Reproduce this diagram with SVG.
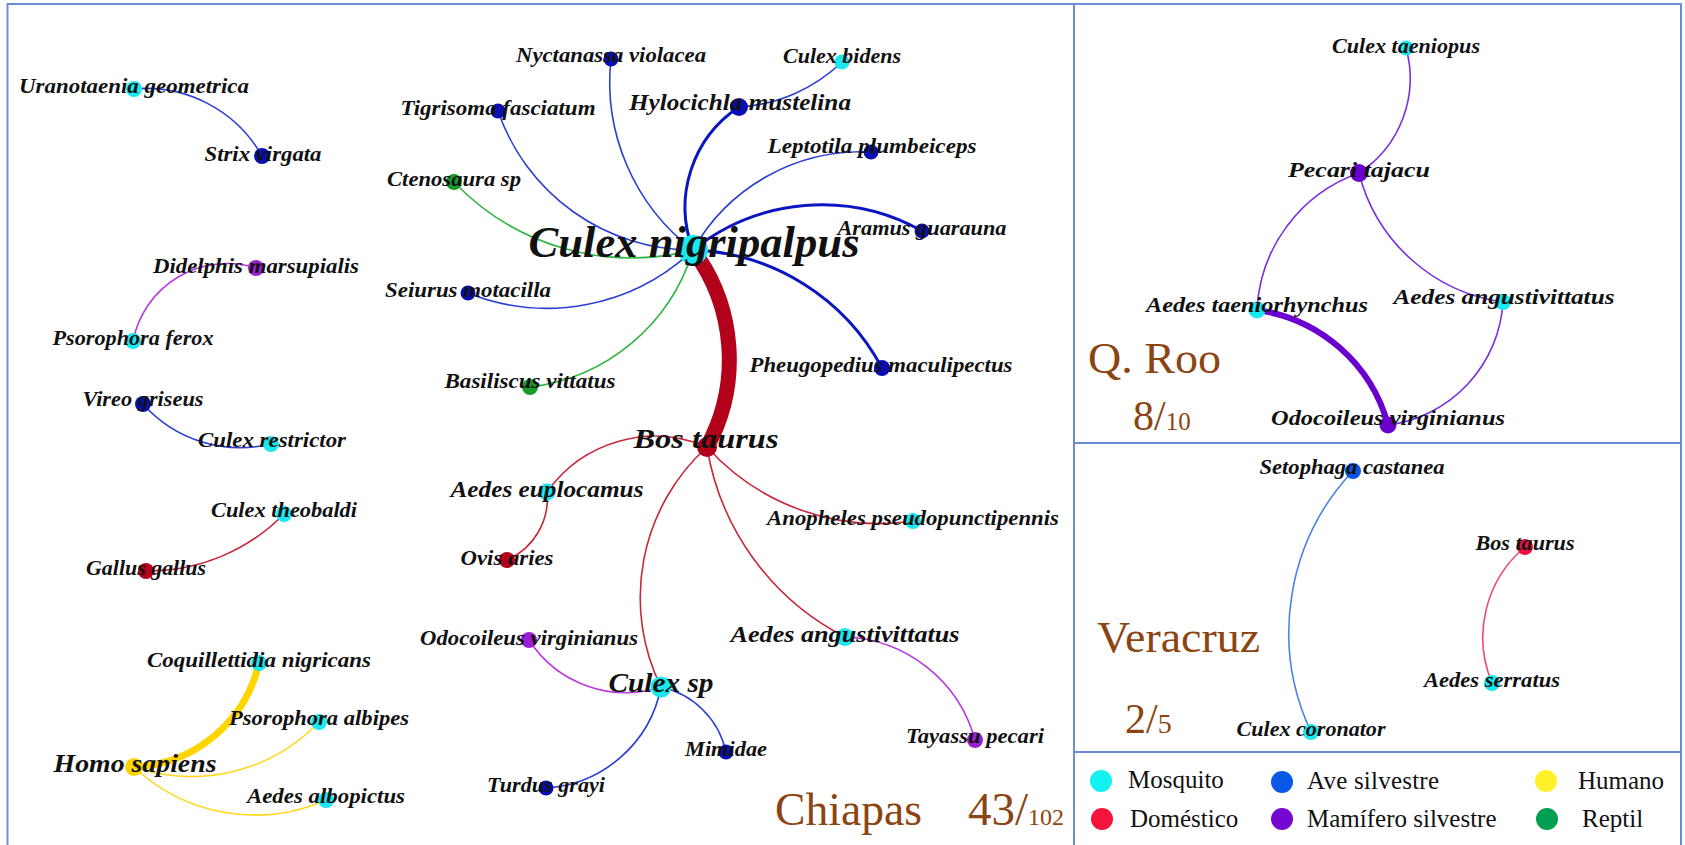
<svg xmlns="http://www.w3.org/2000/svg" width="1685" height="845" viewBox="0 0 1685 845">
  <style>
    .frame { fill: none; stroke: #6a8dd6; stroke-width: 2; }
    .lbl { font-family: "Liberation Serif", "Times New Roman", serif; font-weight: bold; font-style: italic; fill: #111; text-anchor: middle; font-size: 20px; }
    .edge { fill: none; stroke-width: 1.6; stroke-linecap: round; }
    .b { stroke: #2b3fd1; }
    .bt { stroke: #0b16c0; stroke-width: 3; }
    .g { stroke: #2fb540; }
    .r { stroke: #c8283c; }
    .m { stroke: #b93ae0; }
    .y { stroke: #ffd820; }
    .p { stroke: #7b30e0; }
    .vb { stroke: #4b82ea; }
    .vr { stroke: #f04a6a; }
    .mos { fill: #1ae8f0; }
    .ave { fill: #0a0fb4; }
    .rep { fill: #1a9a2a; }
    .mam { fill: #9b1fd6; }
    .dom { fill: #b3001b; }
    .hum { fill: #ffd500; }
    .mamq { fill: #6a00cf; }
    .avev { fill: #0a55e6; }
    .domv { fill: #ee1040; }
    .region { font-family: "Liberation Serif", "Times New Roman", serif; fill: #8b4513; }
    .leg { font-family: "Liberation Serif", "Times New Roman", serif; font-size: 25px; fill: #111; }
  </style>

  <rect width="1685" height="845" fill="#ffffff"/>

  <!-- panel frames -->
  <g id="frames">
    <rect class="frame" x="7.5" y="4" width="1673.5" height="850"/>
    <line class="frame" x1="1074" y1="4" x2="1074" y2="850"/>
    <line class="frame" x1="1074" y1="443" x2="1681" y2="443"/>
    <line class="frame" x1="1074" y1="752" x2="1681" y2="752"/>
  </g>

  <!-- connectors -->
  <g id="connectors">
    <path class="edge b" d="M134 89 A133 133 0 0 1 262 156"/>
    <path class="edge m" d="M256 268 A96 96 0 0 0 133 341"/>
    <path class="edge b" d="M143 404 A130 130 0 0 0 271 444"/>
    <path class="edge r" d="M146 571 A190 190 0 0 0 284 514"/>
    <path class="edge y" style="stroke:#ffd500;stroke-width:7" d="M134 767 A134 134 0 0 0 259 663"/>
    <path class="edge y" d="M134 767 A177 177 0 0 0 319 722"/>
    <path class="edge y" d="M134 767 A176 176 0 0 0 326 800"/>
    <path class="edge b" d="M498 111 A206 206 0 0 0 693 250"/>
    <path class="edge b" d="M611 59 A211 211 0 0 0 693 250"/>
    <path class="edge bt" d="M739 107 A120 120 0 0 0 693 250"/>
    <path class="edge b" d="M739 107 A163 163 0 0 0 842 62"/>
    <path class="edge b" d="M693 250 A193 193 0 0 1 871 152"/>
    <path class="edge bt" d="M693 250 A206 206 0 0 1 922 231"/>
    <path class="edge bt" d="M693 250 A223 223 0 0 1 882 368"/>
    <path class="edge b" d="M468 293 A212 212 0 0 0 693 250"/>
    <path class="edge g" d="M454 182 A245 245 0 0 0 693 250"/>
    <path class="edge g" d="M530 387 A194 194 0 0 0 693 250"/>
    <path class="edge" style="stroke:#b3001b;stroke-width:15;stroke-linecap:butt" d="M693 250 A183 183 0 0 1 707 447"/>
    <path class="edge r" d="M547 492 A132 132 0 0 1 707 447"/>
    <path class="edge r" d="M547 492 A67 67 0 0 1 507 560"/>
    <path class="edge r" d="M707 447 A231 231 0 0 0 913 521"/>
    <path class="edge r" d="M707 447 A260 260 0 0 0 845 637"/>
    <path class="edge r" d="M707 447 A203 203 0 0 0 661 687"/>
    <path class="edge m" d="M529 640 A115 115 0 0 0 661 687"/>
    <path class="edge b" d="M661 687 A85 85 0 0 1 726 752"/>
    <path class="edge b" d="M661 687 A125 125 0 0 1 546 788"/>
    <path class="edge m" d="M845 637 A140 140 0 0 1 975 740"/>
    <path class="edge p" d="M1406 48 A113 113 0 0 1 1359 173"/>
    <path class="edge p" d="M1359 173 A153 153 0 0 0 1257 310"/>
    <path class="edge p" d="M1359 173 A173 173 0 0 0 1503 302"/>
    <path class="edge p" style="stroke:#6a00d0;stroke-width:6" d="M1257 310 A158 158 0 0 1 1388 425"/>
    <path class="edge p" d="M1503 302 A132 132 0 0 1 1388 425"/>
    <path class="edge vb" d="M1353 471 A235 235 0 0 0 1311 732"/>
    <path class="edge vr" d="M1525 547 A118 118 0 0 0 1492 683"/>
  </g>

  <!-- Chiapas network -->
  <g id="n-uranotaenia-geometrica"><circle class="mos" cx="134" cy="89" r="8"/><text class="lbl" x="134" y="93" textLength="230" lengthAdjust="spacingAndGlyphs">Uranotaenia geometrica</text></g>
  <g id="n-strix-virgata"><circle class="ave" cx="262" cy="156" r="8"/><text class="lbl" x="263" y="161" textLength="117" lengthAdjust="spacingAndGlyphs">Strix virgata</text></g>
  <g id="n-didelphis-marsupialis"><circle class="mam" cx="256" cy="268" r="8"/><text class="lbl" x="256" y="273" textLength="206" lengthAdjust="spacingAndGlyphs">Didelphis marsupialis</text></g>
  <g id="n-psorophora-ferox"><circle class="mos" cx="133" cy="341" r="8"/><text class="lbl" x="133" y="345" textLength="161" lengthAdjust="spacingAndGlyphs">Psorophora ferox</text></g>
  <g id="n-vireo-griseus"><circle class="ave" cx="143" cy="404" r="8"/><text class="lbl" x="143" y="406" textLength="121" lengthAdjust="spacingAndGlyphs">Vireo griseus</text></g>
  <g id="n-culex-restrictor"><circle class="mos" cx="271" cy="444" r="8"/><text class="lbl" x="272" y="447" textLength="148" lengthAdjust="spacingAndGlyphs">Culex restrictor</text></g>
  <g id="n-culex-theobaldi"><circle class="mos" cx="284" cy="514" r="8"/><text class="lbl" x="284" y="517" textLength="146" lengthAdjust="spacingAndGlyphs">Culex theobaldi</text></g>
  <g id="n-gallus-gallus"><circle class="dom" cx="146" cy="571" r="8"/><text class="lbl" x="146" y="575" textLength="120" lengthAdjust="spacingAndGlyphs">Gallus gallus</text></g>
  <g id="n-coquillettidia-nigricans"><circle class="mos" cx="259" cy="663" r="8"/><text class="lbl" x="259" y="667" textLength="224" lengthAdjust="spacingAndGlyphs">Coquillettidia nigricans</text></g>
  <g id="n-psorophora-albipes"><circle class="mos" cx="319" cy="722" r="8"/><text class="lbl" x="319" y="725" textLength="180" lengthAdjust="spacingAndGlyphs">Psorophora albipes</text></g>
  <g id="n-homo-sapiens"><circle class="hum" cx="134" cy="767" r="9"/><text class="lbl" x="135" y="772" style="font-size:26px" textLength="163" lengthAdjust="spacingAndGlyphs">Homo sapiens</text></g>
  <g id="n-aedes-albopictus"><circle class="mos" cx="326" cy="800" r="8"/><text class="lbl" x="326" y="803" textLength="158" lengthAdjust="spacingAndGlyphs">Aedes albopictus</text></g>
  <g id="n-ctenosaura-sp"><circle class="rep" cx="454" cy="182" r="8"/><text class="lbl" x="454" y="186" textLength="134" lengthAdjust="spacingAndGlyphs">Ctenosaura sp</text></g>
  <g id="n-tigrisoma-fasciatum"><circle class="ave" cx="498" cy="111" r="7.5"/><text class="lbl" x="498" y="115" textLength="195" lengthAdjust="spacingAndGlyphs">Tigrisoma fasciatum</text></g>
  <g id="n-seiurus-motacilla"><circle class="ave" cx="468" cy="293" r="7.5"/><text class="lbl" x="468" y="297" textLength="166" lengthAdjust="spacingAndGlyphs">Seiurus motacilla</text></g>
  <g id="n-basiliscus-vittatus"><circle class="rep" cx="530" cy="387" r="8"/><text class="lbl" x="530" y="388" textLength="171" lengthAdjust="spacingAndGlyphs">Basiliscus vittatus</text></g>
  <g id="n-nyctanassa-violacea"><circle class="ave" cx="611" cy="59" r="7.5"/><text class="lbl" x="611" y="62" textLength="190" lengthAdjust="spacingAndGlyphs">Nyctanassa violacea</text></g>
  <g id="n-culex-bidens"><circle class="mos" cx="842" cy="62" r="7.5"/><text class="lbl" x="842" y="63" textLength="118" lengthAdjust="spacingAndGlyphs">Culex bidens</text></g>
  <g id="n-hylocichla-mustelina"><circle class="ave" cx="739" cy="107" r="9"/><text class="lbl" x="740" y="110" style="font-size:23px" textLength="222" lengthAdjust="spacingAndGlyphs">Hylocichla mustelina</text></g>
  <g id="n-leptotila-plumbeiceps"><circle class="ave" cx="871" cy="152" r="7.5"/><text class="lbl" x="872" y="153" textLength="209" lengthAdjust="spacingAndGlyphs">Leptotila plumbeiceps</text></g>
  <g id="n-aramus-guarauna"><circle class="ave" cx="922" cy="231" r="7.5"/><text class="lbl" x="922" y="235" textLength="169" lengthAdjust="spacingAndGlyphs">Aramus guarauna</text></g>
  <g id="n-pheugopedius-maculipectus"><circle class="ave" cx="882" cy="368" r="8"/><text class="lbl" x="881" y="372" textLength="263" lengthAdjust="spacingAndGlyphs">Pheugopedius maculipectus</text></g>
  <g id="n-culex-nigripalpus"><circle class="mos" cx="693" cy="250" r="15"/><text class="lbl" x="694" y="257" style="font-size:44px" textLength="331" lengthAdjust="spacingAndGlyphs">Culex nigripalpus</text></g>
  <g id="n-bos-taurus"><circle class="dom" cx="707" cy="447" r="10"/><text class="lbl" x="706" y="448" style="font-size:28px" textLength="145" lengthAdjust="spacingAndGlyphs">Bos taurus</text></g>
  <g id="n-aedes-euplocamus"><circle class="mos" cx="547" cy="492" r="8.5"/><text class="lbl" x="547" y="497" style="font-size:23px" textLength="193" lengthAdjust="spacingAndGlyphs">Aedes euplocamus</text></g>
  <g id="n-ovis-aries"><circle class="dom" cx="507" cy="560" r="8"/><text class="lbl" x="507" y="565" textLength="93" lengthAdjust="spacingAndGlyphs">Ovis aries</text></g>
  <g id="n-anopheles-pseudopunctipennis"><circle class="mos" cx="913" cy="521" r="8"/><text class="lbl" x="913" y="525" textLength="292" lengthAdjust="spacingAndGlyphs">Anopheles pseudopunctipennis</text></g>
  <g id="n-aedes-angustivittatus-chis"><circle class="mos" cx="845" cy="637" r="9"/><text class="lbl" x="845" y="642" style="font-size:23px" textLength="229" lengthAdjust="spacingAndGlyphs">Aedes angustivittatus</text></g>
  <g id="n-odocoileus-virginianus-chis"><circle class="mam" cx="529" cy="640" r="8"/><text class="lbl" x="529" y="645" textLength="218" lengthAdjust="spacingAndGlyphs">Odocoileus virginianus</text></g>
  <g id="n-culex-sp"><circle class="mos" cx="661" cy="687" r="10.5"/><text class="lbl" x="661" y="692" style="font-size:27px" textLength="105" lengthAdjust="spacingAndGlyphs">Culex sp</text></g>
  <g id="n-tayassu-pecari"><circle class="mam" cx="975" cy="740" r="8"/><text class="lbl" x="975" y="743" textLength="138" lengthAdjust="spacingAndGlyphs">Tayassu pecari</text></g>
  <g id="n-mimidae"><circle class="ave" cx="726" cy="752" r="7.5"/><text class="lbl" x="726" y="756" textLength="82" lengthAdjust="spacingAndGlyphs">Mimidae</text></g>
  <g id="n-turdus-grayi"><circle class="ave" cx="546" cy="788" r="7.5"/><text class="lbl" x="546" y="792" textLength="118" lengthAdjust="spacingAndGlyphs">Turdus grayi</text></g>

  <!-- Quintana Roo network -->
  <g id="n-culex-taeniopus"><circle class="mos" cx="1406" cy="48" r="7.5"/><text class="lbl" x="1406" y="53" textLength="148" lengthAdjust="spacingAndGlyphs">Culex taeniopus</text></g>
  <g id="n-pecari-tajacu"><circle class="mamq" cx="1359" cy="173" r="9"/><text class="lbl" x="1359" y="177" style="font-size:22px" textLength="142" lengthAdjust="spacingAndGlyphs">Pecari tajacu</text></g>
  <g id="n-aedes-taeniorhynchus"><circle class="mos" cx="1257" cy="310" r="8.5"/><text class="lbl" x="1257" y="312" textLength="222" lengthAdjust="spacingAndGlyphs">Aedes taeniorhynchus</text></g>
  <g id="n-aedes-angustivittatus-qroo"><circle class="mos" cx="1503" cy="302" r="8"/><text class="lbl" x="1504" y="304" textLength="221" lengthAdjust="spacingAndGlyphs">Aedes angustivittatus</text></g>
  <g id="n-odocoileus-virginianus-qroo"><circle class="mamq" cx="1388" cy="425" r="8.5"/><text class="lbl" x="1388" y="425" textLength="234" lengthAdjust="spacingAndGlyphs">Odocoileus virginianus</text></g>

  <!-- Veracruz network -->
  <g id="n-setophaga-castanea"><circle class="avev" cx="1353" cy="471" r="8"/><text class="lbl" x="1352" y="474" textLength="185" lengthAdjust="spacingAndGlyphs">Setophaga castanea</text></g>
  <g id="n-culex-coronator"><circle class="mos" cx="1311" cy="732" r="8"/><text class="lbl" x="1311" y="736" textLength="149" lengthAdjust="spacingAndGlyphs">Culex coronator</text></g>
  <g id="n-bos-taurus-ver"><circle class="domv" cx="1525" cy="547" r="8"/><text class="lbl" x="1525" y="550" textLength="99" lengthAdjust="spacingAndGlyphs">Bos taurus</text></g>
  <g id="n-aedes-serratus"><circle class="mos" cx="1492" cy="683" r="8"/><text class="lbl" x="1492" y="687" textLength="136" lengthAdjust="spacingAndGlyphs">Aedes serratus</text></g>

  <!-- region titles and counts -->
  <g id="region-labels">
    <text class="region" x="775" y="825" style="font-size:46px" textLength="147" lengthAdjust="spacingAndGlyphs">Chiapas</text>
    <text class="region" x="968" y="825"><tspan style="font-size:47px">43/</tspan><tspan style="font-size:24px">102</tspan></text>
    <text class="region" x="1088" y="373" style="font-size:45px" textLength="133" lengthAdjust="spacingAndGlyphs">Q. Roo</text>
    <text class="region" x="1133" y="430"><tspan style="font-size:42px">8/</tspan><tspan style="font-size:25px">10</tspan></text>
    <text class="region" x="1097" y="652" style="font-size:45px" textLength="163" lengthAdjust="spacingAndGlyphs">Veracruz</text>
    <text class="region" x="1125" y="733"><tspan style="font-size:42px">2/</tspan><tspan style="font-size:28px">5</tspan></text>
  </g>

  <!-- legend -->
  <g id="legend">
    <circle cx="1101" cy="781" r="11" fill="#12f2f2"/>
    <text class="leg" x="1128" y="788">Mosquito</text>
    <circle cx="1282" cy="782" r="11" fill="#0a58e8"/>
    <text class="leg" x="1307" y="789" textLength="132" lengthAdjust="spacing">Ave silvestre</text>
    <circle cx="1546" cy="781" r="11" fill="#fff02a"/>
    <text class="leg" x="1578" y="789">Humano</text>
    <circle cx="1102" cy="819" r="11" fill="#f5143c"/>
    <text class="leg" x="1130" y="827">Doméstico</text>
    <circle cx="1282" cy="819" r="11" fill="#7408d0"/>
    <text class="leg" x="1307" y="827">Mamífero silvestre</text>
    <circle cx="1547" cy="819" r="11" fill="#00a050"/>
    <text class="leg" x="1582" y="827">Reptil</text>
  </g>
</svg>
